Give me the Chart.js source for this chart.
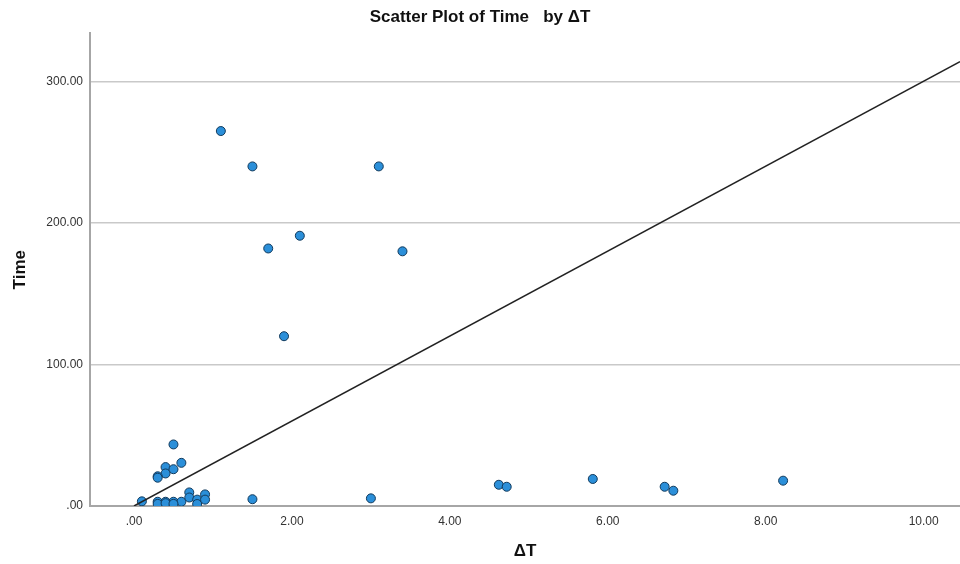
<!DOCTYPE html>
<html>
<head>
<meta charset="utf-8">
<title>Scatter Plot of Time by ΔT</title>
<script src="https://cdn.jsdelivr.net/npm/chart.js@4.4.1/dist/chart.umd.min.js"></script>
<style>
  body { margin: 0; background: #fff; }
  #wrap { width: 960px; height: 564px; position: relative; }
</style>
</head>
<body>
<div id="wrap"><canvas id="scatterChart"></canvas></div>
<script>
// ΔT / Time pairs
const deltaT = [1.10, 1.50, 3.10, 2.10, 1.70, 3.40, 1.90,
                0.10, 0.50, 0.60, 0.40, 0.50, 0.40, 0.30, 0.30,
                0.30, 0.40, 0.50, 0.60, 0.30, 0.40, 0.50,
                0.70, 0.70, 0.80, 0.80, 0.90, 0.90,
                1.50, 3.00,
                4.62, 4.72, 5.81, 6.72, 6.83, 8.22];
const timeVals = [265, 240, 240, 191, 182, 180, 120,
                  3.3, 43.5, 30.5, 27.5, 26, 23, 21, 20,
                  3, 3, 3, 3, 1.5, 2, 1.5,
                  9.6, 6, 4.5, 1.4, 8.2, 4.5,
                  4.8, 5.4,
                  15, 13.6, 19.1, 13.6, 10.8, 17.9];

// fit line end points
const fitX = [0, 10.46];
const fitY = [0, 314];

const xTicks = [0, 2, 4, 6, 8, 10];
const yTicks = [0, 100, 200, 300];

function fmt(v) {
    return v.toFixed(2).replace(/^0/, '');
}

const points = [];
for (let i = 0; i < deltaT.length; i++) {
    points.push({ x: deltaT[i], y: timeVals[i] });
}
const fitLine = [];
for (let i = 0; i < fitX.length; i++) {
    fitLine.push({ x: fitX[i], y: fitY[i] });
}

const font = "'Liberation Sans', Arial, sans-serif";

new Chart(document.getElementById('scatterChart'), {
    type: 'scatter',
    data: {
        datasets: [
            {
                label: 'Time',
                data: points,
                backgroundColor: '#2b8fd9',
                borderColor: '#123a5c',
                borderWidth: 1,
                pointRadius: 4.5,
                order: 2
            },
            {
                label: 'fit',
                data: fitLine,
                showLine: true,
                pointRadius: 0,
                borderColor: '#222222',
                borderWidth: 1.5,
                order: 1
            }
        ]
    },
    options: {
        responsive: true,
        maintainAspectRatio: false,
        animation: false,
        layout: { padding: 0, autoPadding: false },
        plugins: {
            legend: { display: false },
            tooltip: { enabled: false },
            title: {
                display: true,
                text: 'Scatter Plot of Time   by ΔT',
                color: '#111',
                font: { family: font, size: 17, weight: 'bold' },
                padding: { top: 7, bottom: 6 }
            }
        },
        scales: {
            x: {
                type: 'linear',
                min: -0.557,
                max: 10.46,
                afterBuildTicks: (scale) => {
                    scale.ticks = xTicks.map(v => ({ value: v }));
                },
                afterFit: (scale) => {
                    scale.height = 58;
                    scale.paddingLeft = 0;
                    scale.paddingRight = 0;
                },
                grid: { display: false, drawTicks: false },
                border: { display: true, color: '#a6a6a6', width: 2 },
                ticks: {
                    padding: 8,
                    color: '#333',
                    font: { family: font, size: 12 },
                    maxRotation: 0,
                    callback: (v) => fmt(v)
                },
                title: {
                    display: true,
                    text: 'ΔT',
                    color: '#111',
                    font: { family: font, size: 17, weight: 'bold' },
                    padding: { top: 0, bottom: 2 }
                }
            },
            y: {
                min: 0,
                max: 334,
                afterBuildTicks: (scale) => {
                    scale.ticks = yTicks.map(v => ({ value: v }));
                },
                afterFit: (scale) => {
                    scale.width = 90;
                    scale.paddingTop = 0;
                    scale.paddingBottom = 0;
                },
                grid: {
                    drawTicks: false,
                    color: (ctx) => ctx.tick && ctx.tick.value === 0 ? 'rgba(0,0,0,0)' : '#c9c9c9',
                    lineWidth: 1.5
                },
                border: { display: true, color: '#a6a6a6', width: 2 },
                ticks: {
                    padding: 7,
                    color: '#333',
                    font: { family: font, size: 12 },
                    callback: (v) => fmt(v)
                },
                title: {
                    display: true,
                    text: 'Time',
                    color: '#111',
                    font: { family: font, size: 17, weight: 'bold' },
                    padding: { top: 10, bottom: 0 }
                }
            }
        }
    }
});
</script>
</body>
</html>
